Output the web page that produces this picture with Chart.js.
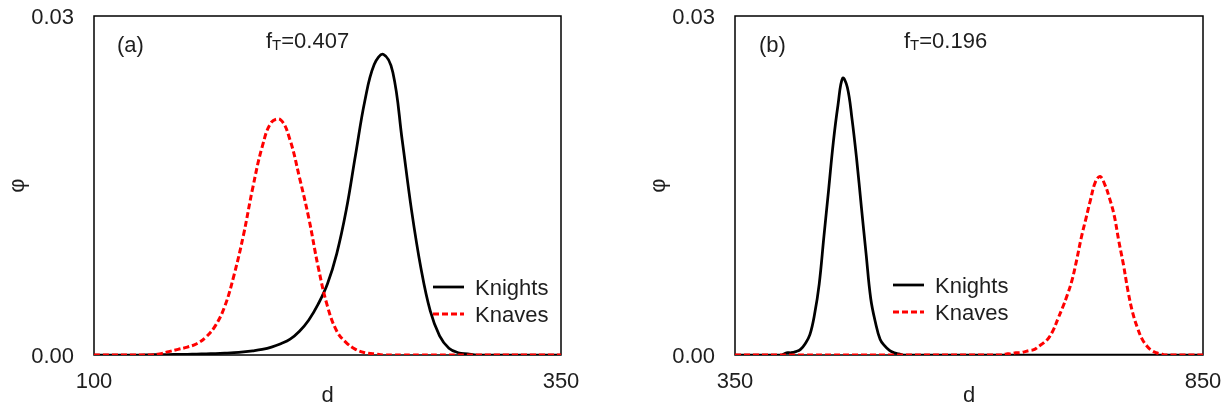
<!DOCTYPE html>
<html>
<head>
<meta charset="utf-8">
<script src="https://cdn.jsdelivr.net/npm/chart.js@4.4.0/dist/chart.umd.min.js"></script>
<style>
  body { margin: 0; background: #fff; }
  #wrap { position: relative; width: 1223px; height: 409px; }
  canvas { position: absolute; top: 0; }
</style>
</head>
<body>
<div id="wrap">
  <canvas id="chartA" width="611" height="409" style="left:0"></canvas>
  <canvas id="chartB" width="612" height="409" style="left:611px"></canvas>
</div>
<script>
// panel (a): d from 100 to 350, step 5
const dA = [100, 105, 110, 115, 120, 125, 130, 135, 140, 145, 150, 155, 160, 165, 170, 175,
  180, 185, 190, 195, 200, 205, 210, 215, 220, 225, 230, 235, 240, 245, 250, 255, 260, 265,
  270, 275, 280, 285, 290, 295, 300, 305, 310, 315, 320, 325, 330, 335, 340, 345, 350];
const knightsA = [0, 0, 0, 0, 0, 0,
  0.00002, 0.00003, 0.00004, 0.00005, 0.00006, 0.00008, 0.0001, 0.00013, 0.00016, 0.0002,
  0.00027, 0.00037, 0.0005, 0.0007, 0.001, 0.0014, 0.0021, 0.0031, 0.0045, 0.0063,
  0.009, 0.0128, 0.0177, 0.0225, 0.0257, 0.0266, 0.025, 0.019, 0.0128, 0.0077,
  0.0039, 0.0017, 0.0006, 0.0002, 0.0001, 0,
  0, 0, 0, 0, 0, 0, 0, 0, 0];
const knavesA = [0, 0, 0, 0, 0, 0, 0,
  0.0001, 0.0003, 0.0005, 0.0007, 0.001, 0.0016, 0.0026, 0.0043, 0.0071, 0.0106,
  0.0148, 0.0184, 0.0206, 0.0208, 0.019, 0.0157, 0.0121, 0.0078, 0.0043, 0.0021,
  0.0011, 0.0005, 0.0002, 0.0001,
  0, 0, 0, 0, 0, 0, 0, 0, 0, 0, 0, 0, 0, 0, 0, 0, 0, 0, 0, 0];

// panel (b): d from 350 to 850, step 5
const dB = [350, 355, 360, 365, 370, 375, 380, 385, 390, 395, 400, 405, 410, 415, 420, 425,
  430, 435, 440, 445, 450, 455, 460, 465, 470, 475, 480, 485, 490, 495, 500, 505, 510, 515,
  520, 525, 530, 535, 540, 545, 550, 555, 560, 565, 570, 575, 580, 585, 590, 595, 600, 605,
  610, 615, 620, 625, 630, 635, 640, 645, 650, 655, 660, 665, 670, 675, 680, 685, 690, 695,
  700, 705, 710, 715, 720, 725, 730, 735, 740, 745, 750, 755, 760, 765, 770, 775, 780, 785,
  790, 795, 800, 805, 810, 815, 820, 825, 830, 835, 840, 845, 850];
const knightsB = [0, 0, 0, 0, 0, 0, 0, 0, 0, 0, 0,
  0.0002, 0.0002, 0.0003, 0.0005, 0.001, 0.0018, 0.0036, 0.0063, 0.0105, 0.0146,
  0.0188, 0.0221, 0.0245, 0.0237, 0.0209, 0.0173, 0.0131, 0.009, 0.005, 0.0029,
  0.0014, 0.0008, 0.0004, 0.0002, 0.0001,
  0, 0, 0, 0, 0, 0, 0, 0, 0, 0, 0, 0, 0, 0, 0, 0, 0, 0, 0, 0, 0, 0, 0, 0, 0, 0,
  0, 0, 0, 0, 0, 0, 0, 0, 0, 0, 0, 0, 0, 0, 0, 0, 0, 0, 0, 0, 0, 0, 0, 0, 0, 0,
  0, 0, 0, 0, 0, 0, 0, 0, 0, 0, 0, 0, 0];
const knavesB = [0, 0, 0, 0, 0, 0, 0, 0, 0, 0, 0, 0, 0, 0, 0, 0, 0, 0, 0, 0,
  0, 0, 0, 0, 0, 0, 0, 0, 0, 0, 0, 0, 0, 0, 0, 0, 0, 0, 0, 0,
  0, 0, 0, 0, 0, 0, 0, 0, 0, 0, 0, 0, 0, 0, 0, 0, 0, 0,
  0.0001, 0.0001, 0.0002, 0.0002, 0.0003, 0.0004, 0.0005, 0.0008, 0.0011, 0.0015,
  0.0022, 0.0032, 0.0042, 0.0053, 0.0066, 0.0084, 0.0104, 0.0121, 0.0138, 0.0153,
  0.0158, 0.0151, 0.0139, 0.0124, 0.0101, 0.008, 0.0056, 0.0037, 0.0024, 0.0014,
  0.0008, 0.0004, 0.0002, 0.0001,
  0, 0, 0, 0, 0, 0, 0, 0, 0];

const xTicksA = [100, 350];
const xTicksB = [350, 850];
const yTicks = [0, 0.03];

const FONT = '"Liberation Sans", Arial, sans-serif';
const TEXT = '#1e1e1e';
const SIZE = 22;

// frame round the plot area, under the curves
const frame = {
  id: 'frame',
  beforeDatasetsDraw(chart) {
    const { ctx, chartArea: a } = chart;
    ctx.save();
    ctx.strokeStyle = '#000';
    ctx.lineWidth = 1.5;
    ctx.strokeRect(a.left, a.top, a.right - a.left, a.bottom - a.top);
    ctx.restore();
  }
};

// panel tag, f_T note and the in-plot legend
const panelText = {
  id: 'panelText',
  afterDraw(chart, args, opts) {
    const ctx = chart.ctx;
    ctx.save();
    ctx.fillStyle = TEXT;
    ctx.textBaseline = 'alphabetic';
    ctx.font = `${SIZE}px ${FONT}`;
    ctx.fillText(opts.tag, opts.tagX, opts.tagY);

    let x = opts.fX;
    ctx.fillText('f', x, opts.fY);
    x += ctx.measureText('f').width;
    ctx.font = `15px ${FONT}`;
    ctx.fillText('T', x, opts.fY + 2);
    x += ctx.measureText('T').width;
    ctx.font = `${SIZE}px ${FONT}`;
    ctx.fillText('=' + opts.fT, x, opts.fY);

    chart.data.datasets.forEach((ds, i) => {
      const y = opts.legY[i];
      ctx.beginPath();
      ctx.strokeStyle = ds.borderColor;
      ctx.lineWidth = ds.borderWidth;
      ctx.setLineDash(ds.borderDash || []);
      ctx.moveTo(opts.legX, y);
      ctx.lineTo(opts.legX + 31, y);
      ctx.stroke();
      ctx.setLineDash([]);
      ctx.fillText(ds.label, opts.legX + 42, y + 8);
    });
    ctx.restore();
  }
};

function makePanel(id, xs, knights, knaves, xTicks, plotLeft, plotRight, yTitlePad, text) {
  const canvas = document.getElementById(id);
  const toPoints = ys => xs.map((x, i) => ({ x: x, y: ys[i] }));
  return new Chart(canvas, {
    type: 'line',
    data: {
      datasets: [
        {
          label: 'Knights',
          data: toPoints(knights),
          borderColor: '#000000',
          borderWidth: 2.75,
          pointRadius: 0,
          tension: 0.4,
          order: 1,
        },
        {
          label: 'Knaves',
          data: toPoints(knaves),
          borderColor: '#ff0000',
          borderWidth: 3,
          borderDash: [6, 3],
          pointRadius: 0,
          tension: 0.4,
          order: 0,
        },
      ],
    },
    options: {
      responsive: false,
      animation: false,
      events: [],
      layout: { padding: { left: 0, right: canvas.width - plotRight, top: 16, bottom: 0 } },
      scales: {
        x: {
          type: 'linear',
          min: xTicks[0],
          max: xTicks[xTicks.length - 1],
          grid: { display: false, drawTicks: false },
          border: { display: false },
          afterBuildTicks: s => { s.ticks = xTicks.map(v => ({ value: v })); },
          afterFit: s => { s.height = 54; s.paddingLeft = 0; s.paddingRight = 0; },
          ticks: { padding: 14, color: TEXT, font: { family: FONT, size: SIZE }, maxRotation: 0 },
          title: { display: true, text: 'd', color: TEXT, padding: { top: 0, bottom: 2 },
                   font: { family: FONT, size: SIZE, lineHeight: 1 } },
        },
        y: {
          min: 0,
          max: 0.03,
          grid: { display: false, drawTicks: false },
          border: { display: false },
          afterBuildTicks: s => { s.ticks = yTicks.map(v => ({ value: v })); },
          afterFit: s => { s.width = plotLeft; s.paddingTop = 0; s.paddingBottom = 0; },
          ticks: { padding: 20, labelOffset: 2, color: TEXT, font: { family: FONT, size: SIZE },
                   callback: v => Number(v).toFixed(2) },
          title: { display: true, text: 'φ', color: TEXT, padding: { top: yTitlePad, bottom: 0 },
                   font: { family: FONT, size: SIZE, lineHeight: 1 } },
        },
      },
      plugins: {
        legend: { display: false },
        tooltip: { enabled: false },
        panelText: text,
      },
    },
    plugins: [frame, panelText],
  });
}

makePanel('chartA', dA, knightsA, knavesA, xTicksA, 94, 561, 7,
  { tag: '(a)', tagX: 117, tagY: 52, fT: '0.407', fX: 266, fY: 47.5, legX: 433, legY: [287, 314] });
makePanel('chartB', dB, knightsB, knavesB, xTicksB, 124, 592, 37,
  { tag: '(b)', tagX: 148, tagY: 52, fT: '0.196', fX: 293, fY: 48, legX: 282, legY: [285, 312] });
</script>
</body>
</html>
